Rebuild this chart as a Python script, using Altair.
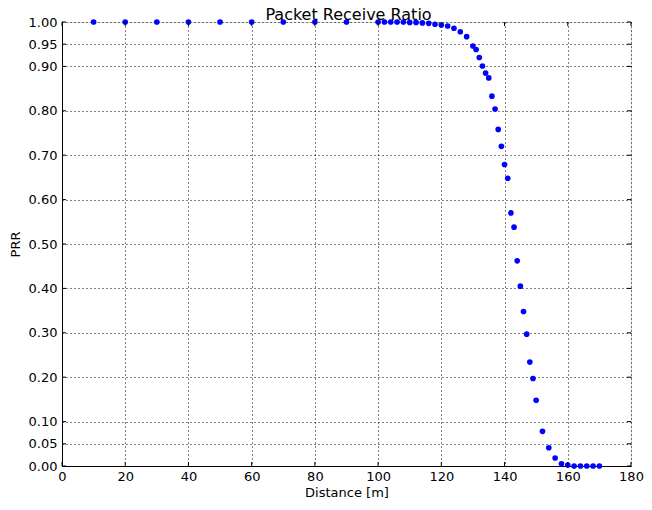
import altair as alt
import pandas as pd

distance = [10, 20, 30, 40, 50, 60, 70, 80, 90,
            100, 102, 104, 106, 108, 110, 112, 114, 116, 118, 120, 122, 124, 126, 128,
            130, 131, 132, 133, 134, 135, 136, 137, 138, 139, 140, 141, 142, 143, 144,
            145, 146, 147, 148, 149, 150,
            152, 154, 156, 158, 160, 162, 164, 166, 168, 170]
prr = [1.0, 1.0, 1.0, 1.0, 1.0, 1.0, 1.0, 1.0, 1.0,
       1.0, 1.0, 1.0, 1.0, 1.0, 0.999, 0.999, 0.998, 0.997, 0.995, 0.993, 0.991, 0.986, 0.978, 0.967,
       0.946, 0.938, 0.920, 0.901, 0.885, 0.874, 0.833, 0.804, 0.758, 0.720, 0.679, 0.648, 0.570, 0.538, 0.462,
       0.405, 0.348, 0.297, 0.234, 0.197, 0.148,
       0.078, 0.041, 0.018, 0.005, 0.002, 0.0, 0.0, 0.0, 0.0, 0.0]

x_ticks = [0, 20, 40, 60, 80, 100, 120, 140, 160, 180]
y_ticks = [0.0, 0.05, 0.1, 0.2, 0.3, 0.4, 0.5, 0.6, 0.7, 0.8, 0.9, 0.95, 1.0]
title_text = ["Packet Receive Ratio"]

df = pd.DataFrame({"Distance": distance, "PRR": prr})
xt = pd.DataFrame({"Distance": x_ticks})
yt = pd.DataFrame({"PRR": y_ticks})
tt = pd.DataFrame({"t": title_text})

W, H = 569, 444
FONT = "DejaVu Sans"

xscale = alt.Scale(domain=[0, 180], nice=False, zero=False)
yscale = alt.Scale(domain=[0, 1], nice=False, zero=False)

xaxis = alt.Axis(values=x_ticks, title="Distance [m]", format="d",
                 grid=True, gridColor="black", gridDash=[1, 3], gridWidth=1,
                 tickSize=0, labelPadding=4, labelFontSize=13, labelFont=FONT,
                 labelColor="black", titleFont=FONT, titleFontSize=13,
                 titleFontWeight="normal", titleColor="black", titlePadding=3,
                 domainColor="black", labelFlush=False, labelOverlap=False)
yaxis = alt.Axis(values=y_ticks, title="PRR", format=".2f",
                 grid=True, gridColor="black", gridDash=[1, 3], gridWidth=1,
                 tickSize=0, labelPadding=5, labelFontSize=13, labelFont=FONT,
                 labelColor="black", titleFont=FONT, titleFontSize=13,
                 titleFontWeight="normal", titleColor="black", titlePadding=6,
                 domainColor="black", labelFlush=False, labelOverlap=False)

points = alt.Chart(df).mark_circle(size=32, color="#0000ff", opacity=1, clip=False).encode(
    x=alt.X("Distance:Q", scale=xscale, axis=xaxis),
    y=alt.Y("PRR:Q", scale=yscale, axis=yaxis),
)

tick_len = 4
xticks_bottom = alt.Chart(xt).mark_rule(color="black", strokeWidth=1).encode(
    x=alt.X("Distance:Q", scale=xscale, axis=xaxis), y=alt.value(H), y2=alt.value(H - tick_len))
xticks_top = alt.Chart(xt).mark_rule(color="black", strokeWidth=1).encode(
    x=alt.X("Distance:Q", scale=xscale, axis=xaxis), y=alt.value(0), y2=alt.value(tick_len))
yticks_left = alt.Chart(yt).mark_rule(color="black", strokeWidth=1).encode(
    y=alt.Y("PRR:Q", scale=yscale, axis=yaxis), x=alt.value(0), x2=alt.value(tick_len))
yticks_right = alt.Chart(yt).mark_rule(color="black", strokeWidth=1).encode(
    y=alt.Y("PRR:Q", scale=yscale, axis=yaxis), x=alt.value(W), x2=alt.value(W - tick_len))

title = alt.Chart(tt).mark_text(font=FONT, fontSize=16, color="black",
                                baseline="alphabetic", align="center").encode(
    text="t:N", x=alt.value(W / 2 + 2), y=alt.value(-2))

chart = alt.layer(points, xticks_bottom, xticks_top, yticks_left, yticks_right, title).properties(
    width=W, height=H,
    autosize=alt.AutoSizeParams(type="none"),
    padding={"left": 54, "top": 14, "right": 13, "bottom": 32},
).configure_view(stroke="black", strokeWidth=1).configure(background="white")

chart.save("out.html", embed_options={"renderer": "svg", "actions": False})
